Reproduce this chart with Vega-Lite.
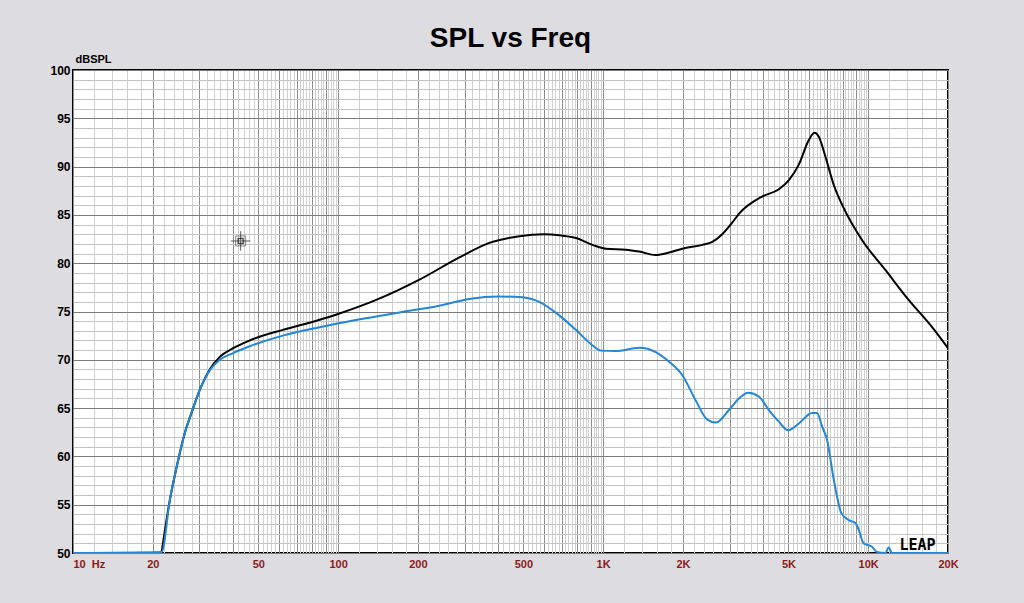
{
  "$schema": "https://vega.github.io/schema/vega-lite/v6.json",
  "description": "SPL vs Freq, two response curves on a log frequency axis",
  "background": "#dddce1",
  "autosize": {"type": "none"},
  "width": 875,
  "height": 483,
  "padding": {"left": 73, "top": 70, "right": 76, "bottom": 50},
  "title": {
    "text": "SPL vs Freq",
    "font": "Liberation Sans",
    "fontSize": 28,
    "fontWeight": "bold",
    "color": "black",
    "anchor": "middle",
    "offset": 0
  },
  "config": {
    "view": {"stroke": "black", "strokeWidth": 2, "fill": "white"},
    "axis": {"gridOpacity": 1}
  },
  "datasets": {
    "black": [
      {"freq": 21.6, "spl": 50.1},
      {"freq": 23.2, "spl": 55.5},
      {"freq": 24.6, "spl": 58.9},
      {"freq": 26.4, "spl": 62.4},
      {"freq": 28.0, "spl": 64.5},
      {"freq": 30.1, "spl": 66.9},
      {"freq": 32.8, "spl": 69.0},
      {"freq": 35.8, "spl": 70.3},
      {"freq": 40.2, "spl": 71.2},
      {"freq": 46.4, "spl": 72.0},
      {"freq": 61.9, "spl": 73.1},
      {"freq": 82.8, "spl": 74.05},
      {"freq": 101.3, "spl": 74.8},
      {"freq": 139.3, "spl": 76.2},
      {"freq": 202.8, "spl": 78.3},
      {"freq": 286.9, "spl": 80.6},
      {"freq": 372.1, "spl": 82.1},
      {"freq": 482.7, "spl": 82.8},
      {"freq": 599.6, "spl": 83.0},
      {"freq": 683, "spl": 82.9},
      {"freq": 789, "spl": 82.6},
      {"freq": 911, "spl": 81.9},
      {"freq": 1024, "spl": 81.5},
      {"freq": 1218, "spl": 81.4},
      {"freq": 1367, "spl": 81.2},
      {"freq": 1579, "spl": 80.85},
      {"freq": 1773, "spl": 81.1},
      {"freq": 1990, "spl": 81.5},
      {"freq": 2366, "spl": 81.9},
      {"freq": 2580, "spl": 82.2},
      {"freq": 2813, "spl": 83.0},
      {"freq": 3069, "spl": 84.2},
      {"freq": 3252, "spl": 85.1},
      {"freq": 3981, "spl": 86.9},
      {"freq": 4602, "spl": 87.65},
      {"freq": 5022, "spl": 88.6},
      {"freq": 5473, "spl": 90.2},
      {"freq": 5970, "spl": 92.75},
      {"freq": 6272, "spl": 93.5},
      {"freq": 6511, "spl": 93.1},
      {"freq": 6901, "spl": 91.0},
      {"freq": 7415, "spl": 88.1},
      {"freq": 8088, "spl": 85.7},
      {"freq": 9477, "spl": 82.4},
      {"freq": 11610, "spl": 79.3},
      {"freq": 14210, "spl": 76.2},
      {"freq": 17393, "spl": 73.4},
      {"freq": 20000, "spl": 71.2}
    ],
    "blue": [
      {"freq": 10, "spl": 50},
      {"freq": 21.6, "spl": 50.1},
      {"freq": 23.2, "spl": 55.5},
      {"freq": 24.6, "spl": 58.9},
      {"freq": 26.4, "spl": 62.4},
      {"freq": 28.0, "spl": 64.5},
      {"freq": 30.1, "spl": 66.9},
      {"freq": 32.8, "spl": 68.9},
      {"freq": 35.8, "spl": 70.0},
      {"freq": 40.2, "spl": 70.7},
      {"freq": 46.4, "spl": 71.4},
      {"freq": 61.9, "spl": 72.5},
      {"freq": 82.8, "spl": 73.3},
      {"freq": 101.3, "spl": 73.8},
      {"freq": 170.4, "spl": 74.9},
      {"freq": 241, "spl": 75.6},
      {"freq": 312.8, "spl": 76.3},
      {"freq": 405.8, "spl": 76.55},
      {"freq": 482.7, "spl": 76.5},
      {"freq": 574, "spl": 76.0},
      {"freq": 683, "spl": 74.6},
      {"freq": 789, "spl": 73.1},
      {"freq": 911, "spl": 71.5},
      {"freq": 979.5, "spl": 70.95},
      {"freq": 1115, "spl": 70.9},
      {"freq": 1367, "spl": 71.25},
      {"freq": 1579, "spl": 70.8},
      {"freq": 1773, "spl": 69.8},
      {"freq": 1990, "spl": 68.4},
      {"freq": 2234, "spl": 65.8},
      {"freq": 2471, "spl": 63.8},
      {"freq": 2658, "spl": 63.5},
      {"freq": 2983, "spl": 64.8},
      {"freq": 3252, "spl": 66.0},
      {"freq": 3526, "spl": 66.6},
      {"freq": 3868, "spl": 66.2},
      {"freq": 4219, "spl": 64.8},
      {"freq": 4602, "spl": 63.6},
      {"freq": 4988, "spl": 62.7},
      {"freq": 5473, "spl": 63.4},
      {"freq": 6142, "spl": 64.5},
      {"freq": 6416, "spl": 64.5},
      {"freq": 6699, "spl": 63.1},
      {"freq": 6996, "spl": 61.7},
      {"freq": 7415, "spl": 57.6},
      {"freq": 7925, "spl": 54.1},
      {"freq": 8446, "spl": 53.4},
      {"freq": 8951, "spl": 53.1},
      {"freq": 9209, "spl": 52.4},
      {"freq": 9618, "spl": 51.0},
      {"freq": 10045, "spl": 50.8},
      {"freq": 10335, "spl": 50.65},
      {"freq": 10794, "spl": 50.1},
      {"freq": 11610, "spl": 50.0},
      {"freq": 11946, "spl": 50.6},
      {"freq": 12292, "spl": 50.0},
      {"freq": 20000, "spl": 50.0}
    ],
    "one": [{}]
  },
  "resolve": {"axis": {"x": "independent", "y": "independent"}},
  "layer": [
    {
      "data": {"name": "black"},
      "mark": {"type": "line", "color": "black", "strokeWidth": 2, "interpolate": "monotone", "clip": true},
      "encoding": {
        "x": {
          "field": "freq",
          "type": "quantitative",
          "scale": {"type": "log", "domain": [10, 20000], "nice": false},
          "axis": {
            "orient": "bottom",
            "values": [12, 14, 16, 18, 22, 24, 26, 28, 32, 34, 36, 38, 42, 44, 46, 48, 52, 54, 56, 58, 62, 64, 66, 68, 72, 74, 76, 78, 82, 84, 86, 88, 92, 94, 96, 98,
                       120, 140, 160, 180, 220, 240, 260, 280, 320, 340, 360, 380, 420, 440, 460, 480, 520, 540, 560, 580, 620, 640, 660, 680, 720, 740, 760, 780, 820, 840, 860, 880, 920, 940, 960, 980,
                       1200, 1400, 1600, 1800, 2200, 2400, 2600, 2800, 3200, 3400, 3600, 3800, 4200, 4400, 4600, 4800, 5200, 5400, 5600, 5800, 6200, 6400, 6600, 6800, 7200, 7400, 7600, 7800, 8200, 8400, 8600, 8800, 9200, 9400, 9600, 9800,
                       12000, 14000, 16000, 18000],
            "grid": true,
            "gridColor": "#d0d0d0",
            "labels": false,
            "ticks": false,
            "domain": false,
            "title": null
          }
        },
        "y": {
          "field": "spl",
          "type": "quantitative",
          "scale": {"domain": [50, 100], "nice": false, "zero": false},
          "axis": {
            "orient": "left",
            "values": [51, 52, 53, 54, 56, 57, 58, 59, 61, 62, 63, 64, 66, 67, 68, 69, 71, 72, 73, 74, 76, 77, 78, 79, 81, 82, 83, 84, 86, 87, 88, 89, 91, 92, 93, 94, 96, 97, 98, 99],
            "grid": true,
            "gridColor": "#c4c4c4",
            "labels": false,
            "ticks": false,
            "domain": false,
            "title": null
          }
        }
      }
    },
    {
      "data": {"name": "blue"},
      "mark": {"type": "line", "color": "#2386d6", "strokeWidth": 2, "interpolate": "monotone", "clip": true},
      "encoding": {
        "x": {
          "field": "freq",
          "type": "quantitative",
          "scale": {"type": "log", "domain": [10, 20000], "nice": false},
          "axis": {
            "orient": "bottom",
            "values": [10, 20, 30, 40, 50, 60, 70, 80, 90, 100, 200, 300, 400, 500, 600, 700, 800, 900, 1000, 2000, 3000, 4000, 5000, 6000, 7000, 8000, 9000, 10000, 20000],
            "labelExpr": "datum.value == 10 ? '10\u00a0\u00a0Hz' : datum.value == 20 ? '20' : datum.value == 50 ? '50' : datum.value == 100 ? '100' : datum.value == 200 ? '200' : datum.value == 500 ? '500' : datum.value == 1000 ? '1K' : datum.value == 2000 ? '2K' : datum.value == 5000 ? '5K' : datum.value == 10000 ? '10K' : datum.value == 20000 ? '20K' : ''",
            "labelAlign": {"condition": {"test": "datum.value == 10", "value": "left"}, "value": "center"},
            "labelFlush": false,
            "labelOverlap": false,
            "labelFont": "Liberation Sans",
            "labelFontWeight": "bold",
            "labelFontSize": 11,
            "labelColor": "#8b1a1a",
            "labelPadding": 5,
            "grid": true,
            "gridColor": "#8c8c8c",
            "ticks": false,
            "domain": false,
            "title": null
          }
        },
        "y": {
          "field": "spl",
          "type": "quantitative",
          "scale": {"domain": [50, 100], "nice": false, "zero": false},
          "axis": {
            "orient": "left",
            "values": [50, 55, 60, 65, 70, 75, 80, 85, 90, 95, 100],
            "grid": true,
            "gridColor": "#7c7c7c",
            "ticks": false,
            "domain": false,
            "labelFont": "Liberation Sans",
            "labelFontWeight": "bold",
            "labelFontSize": 12,
            "labelColor": "black",
            "labelPadding": 3,
            "title": "dBSPL",
            "titleFont": "Liberation Sans",
            "titleFontWeight": "bold",
            "titleFontSize": 11,
            "titleColor": "black",
            "titleAngle": 0,
            "titleAlign": "left",
            "titleBaseline": "bottom",
            "titleX": 2,
            "titleY": -6
          }
        }
      }
    },
    {
      "data": {"name": "one"},
      "mark": {"type": "point", "shape": "square", "filled": false, "stroke": "#555", "strokeWidth": 1, "size": 100},
      "encoding": {
        "x": {"datum": 42.9, "type": "quantitative", "axis": null},
        "y": {"datum": 82.3, "type": "quantitative", "axis": null}
      }
    },
    {
      "data": {"name": "one"},
      "mark": {"type": "point", "shape": "M-1,0L1,0M0,-1L0,1", "filled": false, "stroke": "#222", "strokeWidth": 1, "size": 380},
      "encoding": {
        "x": {"datum": 42.9, "type": "quantitative", "axis": null},
        "y": {"datum": 82.3, "type": "quantitative", "axis": null}
      }
    },
    {
      "data": {"name": "one"},
      "mark": {"type": "point", "shape": "square", "filled": false, "stroke": "#111", "strokeWidth": 1.5, "size": 25},
      "encoding": {
        "x": {"datum": 42.9, "type": "quantitative", "axis": null},
        "y": {"datum": 82.3, "type": "quantitative", "axis": null}
      }
    },
    {
      "data": {"name": "one"},
      "mark": {"type": "text", "text": "LEAP", "font": "DejaVu Sans Mono", "fontWeight": "bold", "fontSize": 15, "letterSpacing": 1.5, "color": "black", "align": "center", "baseline": "middle"},
      "encoding": {
        "x": {"datum": 15350, "type": "quantitative", "axis": null},
        "y": {"datum": 50.85, "type": "quantitative", "axis": null}
      }
    }
  ]
}
